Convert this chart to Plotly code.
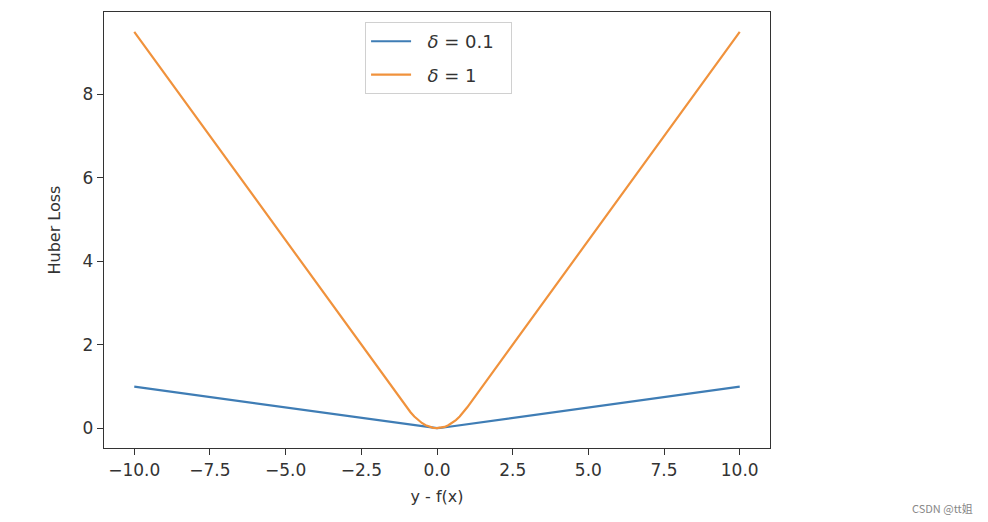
import plotly.graph_objects as go

# Data (Huber loss curves)
x_d01 = [-10.0, -0.1, 0.0, 0.1, 10.0]
y_d01 = [0.995, 0.005, 0.0, 0.005, 0.995]

x_d1 = [-10.0, -1.0, -0.875, -0.75, -0.625, -0.5, -0.375, -0.25, -0.125, 0.0,
        0.125, 0.25, 0.375, 0.5, 0.625, 0.75, 0.875, 1.0, 10.0]
y_d1 = [9.5, 0.5, 0.383, 0.281, 0.195, 0.125, 0.070, 0.031, 0.008, 0.0,
        0.008, 0.031, 0.070, 0.125, 0.195, 0.281, 0.383, 0.5, 9.5]

x_ticks = [-10.0, -7.5, -5.0, -2.5, 0.0, 2.5, 5.0, 7.5, 10.0]
x_tick_labels = ["\u221210.0", "\u22127.5", "\u22125.0", "\u22122.5", "0.0", "2.5", "5.0", "7.5", "10.0"]
y_ticks = [0, 2, 4, 6, 8]
y_tick_labels = ["0", "2", "4", "6", "8"]

FONT = "DejaVu Sans"
TXT = "#333333"

fig = go.Figure()
fig.add_trace(go.Scatter(x=x_d01, y=y_d01, mode="lines", name="\u00a0\u00a0<i>δ</i> = 0.1\u00a0\u00a0", legendgroup="a",
                         line=dict(color="#3f7db5", width=2.2)))
fig.add_trace(go.Scatter(x=x_d1, y=y_d1, mode="lines", name="\u00a0\u00a0<i>δ</i> = 1", legendgroup="b",
                         line=dict(color="#f0923c", width=2.2)))

fig.update_layout(
    width=988, height=522,
    margin=dict(l=104, r=218, t=12, b=74),
    paper_bgcolor="white", plot_bgcolor="white",
    font=dict(family=FONT, size=16, color=TXT),
    showlegend=True,
    legend=dict(x=0.392, y=0.977, xanchor="left", yanchor="top",
                bgcolor="white", bordercolor="#d0d0d0", borderwidth=1,
                font=dict(family=FONT, size=18, color=TXT),
                itemwidth=40, tracegroupgap=7),
    xaxis=dict(range=[-11, 11], tickmode="array", tickvals=x_ticks, ticktext=x_tick_labels,
               showgrid=False, zeroline=False, showline=True, linecolor="#333333", linewidth=1.3,
               mirror=True, ticks="outside", ticklen=6, tickcolor="#333333",
               tickfont=dict(family=FONT, size=17, color=TXT),
               title=dict(text="y - f(x)", font=dict(family=FONT, size=16, color=TXT), standoff=12)),
    yaxis=dict(range=[-0.475, 9.975], tickmode="array", tickvals=y_ticks, ticktext=y_tick_labels,
               showgrid=False, zeroline=False, showline=True, linecolor="#333333", linewidth=1.3,
               mirror=True, ticks="outside", ticklen=6, tickcolor="#333333",
               tickfont=dict(family=FONT, size=17, color=TXT),
               title=dict(text="Huber Loss", font=dict(family=FONT, size=16, color=TXT), standoff=18)),
)

fig.add_annotation(text="CSDN @tt姐", xref="paper", yref="paper",
                   x=(975 - 104) / 666, y=1 - (508 - 12) / 436,
                   xanchor="right", yanchor="middle",
                   showarrow=False, font=dict(family="Noto Sans CJK SC", size=11, color="#888888"))

fig.write_html("out.html")
